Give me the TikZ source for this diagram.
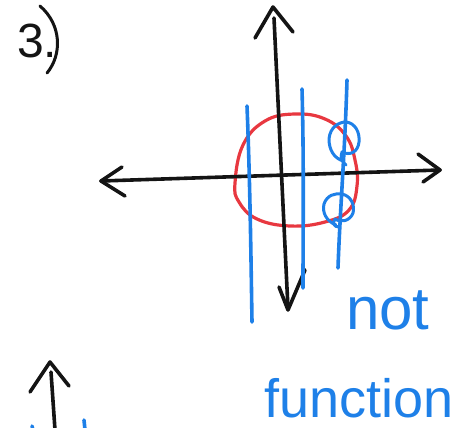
\documentclass[tikz,border=0pt]{standalone}
\usepackage{fontspec}
\setmainfont{Liberation Sans}
\definecolor{penblue}{RGB}{30,128,232}
\definecolor{penred}{RGB}{232,56,64}
\definecolor{penblack}{RGB}{20,20,20}
\begin{document}
\begin{tikzpicture}[x=1pt,y=-1pt,
  ink/.style={line width=3.6pt,line cap=round,line join=round,color=penblack},
  blueink/.style={line width=3.6pt,line cap=round,line join=round,color=penblue},
  redink/.style={line width=3.2pt,line cap=round,line join=round,color=penred},
  handtext/.style={inner sep=0pt,anchor=base west}]
\useasboundingbox (0,0) rectangle (471,428);
% label
\node[handtext,color=penblack,font=\fontsize{48}{48}\selectfont] (num) at (17,58) {3.};
\draw[ink,line width=3pt] (40,6) .. controls (62,25) and (62,55) .. (47,73);
% red closed curve
\draw[redink] plot[smooth cycle,tension=0.7] coordinates {(235,183) (243,145) (265,121) (295,114) (325,119) (346,136) (355,160) (357,186) (349,210) (325,222) (290,226) (257,219) (239,202)};
% horizontal axis
\draw[ink] (101,181) -- (440,170);
\draw[ink] (122,167) -- (101,181) -- (125,196);
\draw[ink] (418,154) -- (440,170) -- (423,182);
% vertical axis
\draw[ink] (274,18) -- (288,309);
\draw[ink] (255,38) -- (273,7) -- (293,32);
\draw[ink] (279,287) -- (288,310) -- (305,270);
% blue vertical lines
\draw[blueink] (247,106) .. controls (250,180) and (251,260) .. (252,322);
\draw[blueink] (302,89) .. controls (304,160) and (303,230) .. (303,288);
\draw[blueink] (347,80) .. controls (345,150) and (340,210) .. (338,268);
% blue circles
\draw[blueink,line width=3pt] (343,161) .. controls (334,158) and (329,150) .. (329,139) .. controls (330,127) and (339,122) .. (346,122) .. controls (355,123) and (360,132) .. (359,142) .. controls (358,152) and (350,156) .. (342,152) .. controls (340,157) and (342,162) .. (346,165);
\draw[blueink,line width=3pt] (336,225) .. controls (326,221) and (322,212) .. (324,204) .. controls (327,195) and (335,193) .. (342,194) .. controls (351,196) and (355,205) .. (353,213) .. controls (350,221) and (341,223) .. (335,219) .. controls (332,223) and (334,227) .. (339,227);
% texts
\node[handtext,color=penblue,font=\fontsize{60}{60}\selectfont] (nottext) at (346,329) {not};
\node[handtext,color=penblue,font=\fontsize{54}{54}\selectfont] (functext) at (264,417) {function};
% bottom partial axis
\draw[ink] (51,372) -- (55,430);
\draw[ink] (30,392) -- (50,362) -- (69,386);
\draw[blueink] (32,426) -- (33,430);
\draw[blueink] (84,420) -- (85,430);
\end{tikzpicture}
\end{document}
